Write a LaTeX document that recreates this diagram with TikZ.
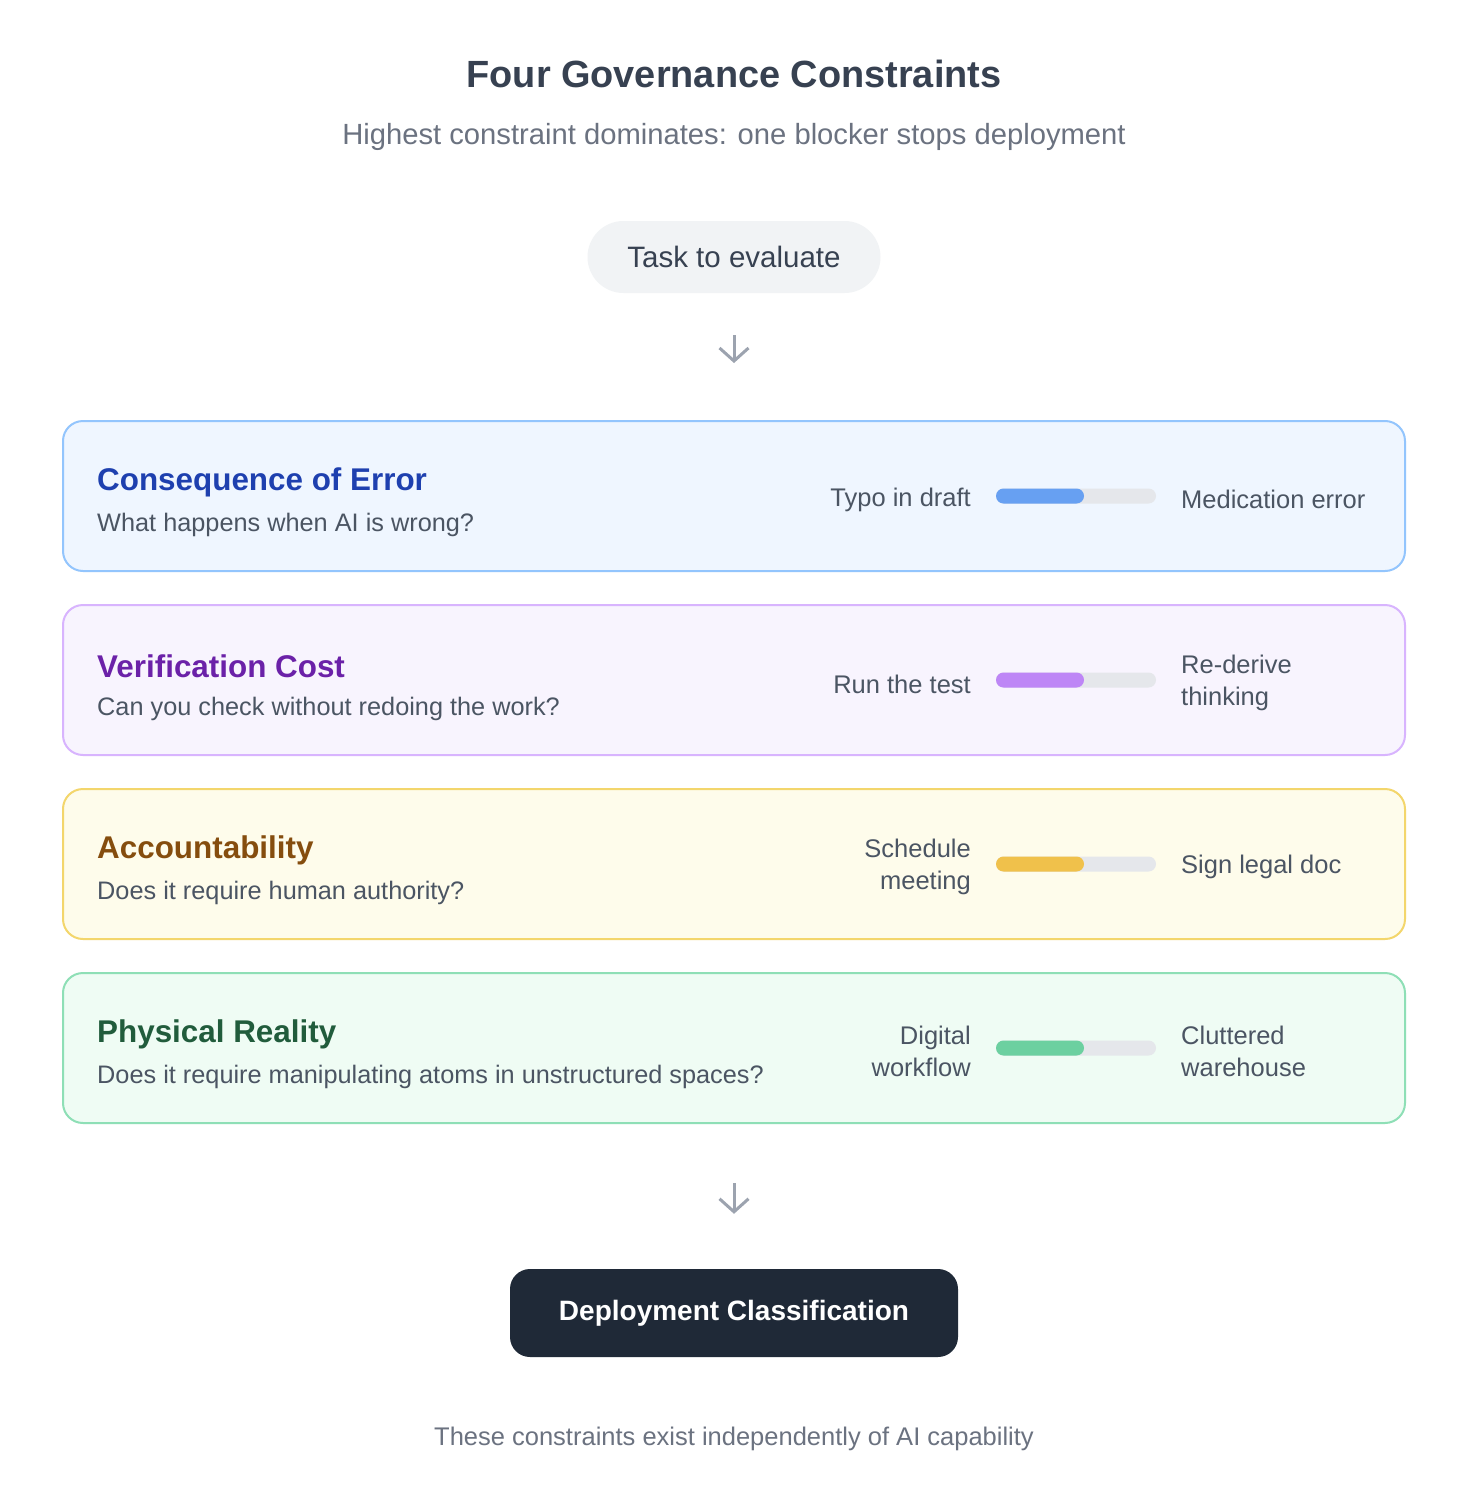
\documentclass[tikz,border=0pt]{standalone}
\usepackage{fontspec}
\setmainfont{Liberation Sans}
\usetikzlibrary{arrows.meta}
\definecolor{ttl}{HTML}{374151}
\definecolor{sub}{HTML}{6B7280}
\definecolor{txt}{HTML}{4B5563}
\definecolor{pill}{HTML}{F1F3F5}
\definecolor{arrc}{HTML}{9CA3AF}
\definecolor{track}{HTML}{E5E7EB}
\definecolor{bAf}{HTML}{EFF6FF}\definecolor{bAd}{HTML}{93C5FD}\definecolor{bAt}{HTML}{1E40AF}\definecolor{bAb}{HTML}{67A0F2}
\definecolor{bBf}{HTML}{F8F4FE}\definecolor{bBd}{HTML}{D8B4FE}\definecolor{bBt}{HTML}{6B21A8}\definecolor{bBb}{HTML}{BE86F6}
\definecolor{bCf}{HTML}{FEFCEB}\definecolor{bCd}{HTML}{F3D66C}\definecolor{bCt}{HTML}{854D0E}\definecolor{bCb}{HTML}{F0C14B}
\definecolor{bDf}{HTML}{EFFCF4}\definecolor{bDd}{HTML}{8EDFB6}\definecolor{bDt}{HTML}{215C3C}\definecolor{bDb}{HTML}{6CD0A0}
\definecolor{dark}{HTML}{1F2937}
\tikzset{
  x=1pt,y=-1pt,
  card/.style={draw=#1d, fill=#1f, line width=2pt, rounded corners=20pt, minimum width=1342pt, minimum height=150pt, inner sep=0pt},
  cardtitle/.style={anchor=west, inner sep=0pt, text=#1t, font=\fontsize{31.4}{36}\selectfont\bfseries},
  cardsub/.style={anchor=west, inner sep=0pt, text=txt, font=\fontsize{25.3}{30}\selectfont},
  lablft/.style={anchor=east, inner sep=0pt, text=txt, align=right, font=\fontsize{25.5}{32}\selectfont},
  labrgt/.style={anchor=west, inner sep=0pt, text=txt, align=left, font=\fontsize{25.5}{32}\selectfont},
  arr/.style={draw=arrc, line width=3pt, -{Straight Barb[length=13pt,width=29pt,line width=3pt]}},
}
\newcommand{\gbar}[2]{% y, colour
  \fill[track, rounded corners=7.5pt] (996,#1-7.5) rectangle (1156,#1+7.5);
  \fill[#2, rounded corners=7.5pt] (996,#1-7.5) rectangle (1084,#1+7.5);
}
\begin{document}
\begin{tikzpicture}
\path[fill=white,use as bounding box] (0,0) rectangle (1478,1496);
\node[text=ttl, font=\fontsize{37.9}{42}\selectfont\bfseries] (title) at (734,74) {Four Governance Constraints};
\node[text=sub, font=\fontsize{29.2}{32}\selectfont] (subtitle) at (734,137) {Highest constraint dominates: one blocker stops deployment};
\node[fill=pill, rounded corners=36pt, minimum width=293pt, minimum height=72pt, inner sep=0pt, text=ttl, font=\fontsize{29.5}{32}\selectfont] (task) at (734,257) {Task to evaluate};

% card 1
\node[card=bA] (c1) at (734,496) {};
\node[cardtitle=bA] (c1t) at (97,482) {Consequence of Error};
\node[cardsub] (c1s) at (97,525) {What happens when AI is wrong?};
\node[lablft] (c1l) at (971,500) {Typo in draft};
\node[labrgt] (c1r) at (1181,499) {Medication error};
\gbar{496}{bAb}

% card 2
\node[card=bB] (c2) at (734,680) {};
\node[cardtitle=bB] (c2t) at (97,666) {Verification Cost};
\node[cardsub] (c2s) at (97,709) {Can you check without redoing the work?};
\node[lablft] (c2l) at (971,684) {Run the test};
\node[labrgt] (c2r) at (1181,683) {Re-derive\\thinking};
\gbar{680}{bBb}

% card 3
\node[card=bC] (c3) at (734,864) {};
\node[cardtitle=bC] (c3t) at (97,850) {Accountability};
\node[cardsub] (c3s) at (97,893) {Does it require human authority?};
\node[lablft] (c3l) at (971,867) {Schedule\\meeting};
\node[labrgt] (c3r) at (1181,867) {Sign legal doc};
\gbar{864}{bCb}

% card 4
\node[card=bD] (c4) at (734,1048) {};
\node[cardtitle=bD] (c4t) at (97,1034) {Physical Reality};
\node[cardsub] (c4s) at (97,1077) {Does it require manipulating atoms in unstructured spaces?};
\node[lablft] (c4l) at (971,1051) {Digital\\workflow};
\node[labrgt] (c4r) at (1181,1051) {Cluttered\\warehouse};
\gbar{1048}{bDb}

\node[fill=dark, rounded corners=20pt, minimum width=448pt, minimum height=88pt, inner sep=0pt, text=white, font=\fontsize{28}{30}\selectfont\bfseries] (deploy) at (734,1313) {Deployment Classification};

\node[text=sub, font=\fontsize{25.5}{28}\selectfont] (foot) at (734,1439) {These constraints exist independently of AI capability};

\draw[arr, shorten <=42pt, shorten >=57pt] (task.south) -- (c1.north);
\draw[arr, shorten <=59pt, shorten >=55pt] (c4.south) -- (deploy.north);
\end{tikzpicture}
\end{document}
